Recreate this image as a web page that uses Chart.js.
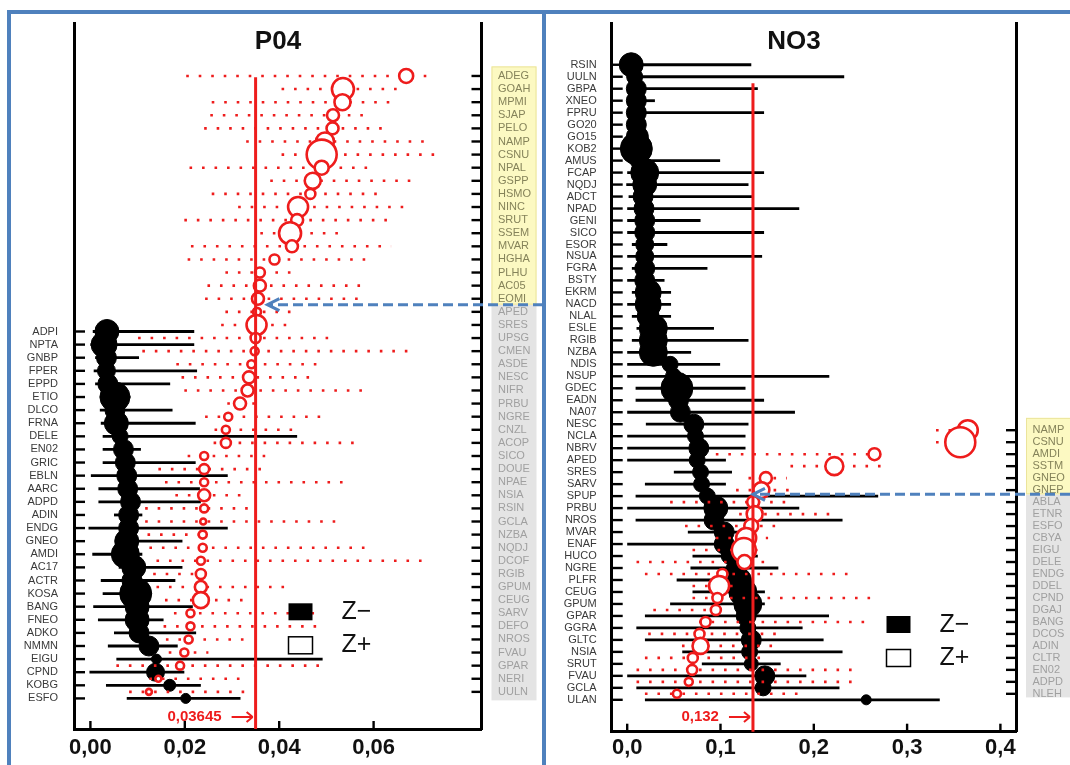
<!DOCTYPE html>
<html>
<head>
<meta charset="utf-8">
<script src="https://cdn.jsdelivr.net/npm/chart.js@4.4.1/dist/chart.umd.min.js"></script>
<style>
  html, body { margin: 0; padding: 0; background: #fff; }
  body { width: 1070px; height: 765px; position: relative; overflow: hidden; }
  .frame { position: absolute; background: #4f81bd; }
  canvas { position: absolute; top: 0; }
</style>
</head>
<body>
<div class="frame" style="left:7px;top:10px;width:1063px;height:4px"></div>
<div class="frame" style="left:7px;top:10px;width:4px;height:755px"></div>
<div class="frame" style="left:542px;top:10px;width:4px;height:755px"></div>
<canvas id="chartP" width="543" height="765" style="left:0"></canvas>
<canvas id="chartN" width="527" height="765" style="left:543px"></canvas>
<script>
// ---- P04 : Z+ (red, right labels) ----
const pRedNames = ['ADEG','GOAH','MPMI','SJAP','PELO','NAMP','CSNU','NPAL','GSPP','HSMO','NINC','SRUT','SSEM','MVAR','HGHA','PLHU','AC05','EOMI',
  'APED','SRES','UPSG','CMEN','ASDE','NESC','NIFR','PRBU','NGRE','CNZL','ACOP','SICO','DOUE','NPAE','NSIA','RSIN','GCLA','NZBA','NQDJ','DCOF',
  'RGIB','GPUM','CEUG','SARV','DEFO','NROS','FVAU','GPAR','NERI','UULN'];
const pRedMean = [0.0669,0.0535,0.0534,0.0514,0.0513,0.0497,0.0490,0.0490,0.0471,0.0466,
  0.0440,0.0438,0.0423,0.0427,0.0390,0.0359,0.0359,0.0355,0.0353,0.0352,
  0.0350,0.0348,0.0341,0.0336,0.0333,0.0317,0.0292,0.0287,0.0287,0.0241,
  0.0241,0.0241,0.0241,0.0241,0.0239,0.0238,0.0238,0.0234,0.0234,0.0234,
  0.0234,0.0212,0.0212,0.0208,0.0199,0.0190,0.0144,0.0124];
const pRedLow = [0.0203,0.0405,0.0257,0.0254,0.0241,0.0330,0.0405,0.0210,0.0381,0.0257,
  0.0313,0.0199,0.0360,0.0213,0.0206,0.0286,0.0248,0.0243,0.0286,0.0277,
  0.0101,0.0110,0.0182,0.0193,0.0199,0.0290,0.0243,0.0263,0.0261,0.0206,
  0.0144,0.0158,0.0180,0.0116,0.0116,0.0121,0.0125,0.0140,0.0133,0.0140,
  0.0158,0.0177,0.0155,0.0160,0.0166,0.0055,0.0125,0.0082];
const pRedHigh = [0.0732,0.0659,0.0648,0.0589,0.0630,0.0719,0.0740,0.0604,0.0688,0.0622,
  0.0677,0.0644,0.0525,0.0637,0.0599,0.0425,0.0580,0.0575,0.0425,0.0418,
  0.0519,0.0692,0.0489,0.0475,0.0588,0.0356,0.0493,0.0431,0.0566,0.0374,
  0.0368,0.0549,0.0323,0.0345,0.0529,0.0245,0.0600,0.0721,0.0250,0.0419,
  0.0328,0.0486,0.0493,0.0334,0.0250,0.0500,0.0335,0.0334];
const pRedSize = [7,11,8,6,6,9,15,7,8,5, 10,6,11,6,5,5,6,6,4,10, 5,4,4,6,6,6,4,4,5,4, 5,4,6,4,3,4,4,4,5,6, 8,4,4,4,4,4,3,3];

// ---- P04 : Z- (black, left labels) ----
const pBlackNames = ['ADPI','NPTA','GNBP','FPER','EPPD','ETIO','DLCO','FRNA','DELE','EN02','GRIC','EBLN','AARC','ADPD','ADIN',
  'ENDG','GNEO','AMDI','AC17','ACTR','KOSA','BANG','FNEO','ADKO','NMMN','EIGU','CPND','KOBG','ESFO'];
const pBlackMean = [0.0035,0.0029,0.0034,0.0034,0.0037,0.0052,0.0052,0.0055,0.0063,0.0070,0.0074,0.0077,0.0079,0.0085,0.0081,
  0.0081,0.0077,0.0074,0.0092,0.0088,0.0096,0.0099,0.0099,0.0103,0.0124,0.0140,0.0138,0.0168,0.0202];
const pBlackLow = [0.0005,0.0000,0.0010,0.0007,0.0010,0.0020,0.0020,0.0022,0.0026,0.0026,0.0026,0.0001,0.0017,0.0017,0.0050,
  -0.0004,0.0052,0.0004,0.0060,0.0022,0.0026,0.0006,0.0016,0.0050,0.0037,0.0055,-0.0002,0.0033,0.0077];
const pBlackHigh = [0.0220,0.0220,0.0103,0.0226,0.0169,0.0085,0.0174,0.0223,0.0438,0.0107,0.0223,0.0291,0.0232,0.0234,0.0110,
  0.0291,0.0195,0.0110,0.0195,0.0180,0.0130,0.0217,0.0155,0.0224,0.0185,0.0492,0.0199,0.0234,0.0318];
const pBlackSize = [12,13,10,9,10,15,10,12,8,10,10,10,10,10,10,10,12,14,12,10,16,12,12,10,10,5,9,6,5];

const pXTicks = [0, 0.02, 0.04, 0.06];
const pMeanLine = 0.035;
const pMeanLabel = '0,03645';

// ---- NO3 : Z- (black, left labels) ----
const nBlackNames = ['RSIN','UULN','GBPA','XNEO','FPRU','GO20','GO15','KOB2','AMUS','FCAP','NQDJ','ADCT','NPAD','GENI','SICO','ESOR',
  'NSUA','FGRA','BSTY','EKRM','NACD','NLAL','ESLE','RGIB','NZBA','NDIS','NSUP','GDEC','EADN','NA07','NESC','NCLA','NBRV','APED',
  'SRES','SARV','SPUP','PRBU','NROS','MVAR','ENAF','HUCO','NGRE','PLFR','CEUG','GPUM','GPAR','GGRA','GLTC','NSIA','SRUT','FVAU','GCLA','ULAN'];
const nBlackMean = [0.0043,0.0080,0.0098,0.0098,0.0098,0.0098,0.0109,0.0098,0.0116,0.0188,
  0.0188,0.0170,0.0180,0.0188,0.0188,0.0188,0.0188,0.0188,0.0188,0.0225,
  0.0225,0.0225,0.0280,0.0280,0.0280,0.0460,0.0496,0.0533,0.0550,0.0570,
  0.0714,0.0732,0.0768,0.0750,0.0786,0.0797,0.0859,0.0950,0.0931,0.1040,
  0.1040,0.1094,0.1149,0.1203,0.1239,0.1293,0.1275,0.1293,0.1330,0.1312,
  0.1330,0.1475,0.1457,0.2562];
const nBlackLow = [0,0,0,0,0,0,0,0,0,0,
  -0.001,0.0015,0,0,0,0.005,0,0.005,0,0.005,
  0,0.005,0.010,0.005,0,0,0,0.009,0.009,0,
  0.020,0,0,0,0.050,0.019,0.009,0,0.009,0.065,
  0,0.070,0.0678,0.053,0.070,0.046,0.019,0.0098,0.019,0.059,
  0.080,0,0.0098,0.019];
const nBlackHigh = [0.133,0.2326,0.140,0.0297,0.1467,0.015,0.015,0.015,0.0996,0.1467,
  0.130,0.1337,0.1844,0.0786,0.1467,0.043,0.1446,0.086,0.040,0.047,
  0.047,0.047,0.093,0.130,0.0685,0.0996,0.2166,0.1268,0.1467,0.1798,
  0.130,0.1268,0.1268,0.1058,0.1123,0.1058,0.269,0.1844,0.2308,0.120,
  0.120,0.140,0.162,0.130,0.1476,0.1475,0.2163,0.188,0.2105,0.2308,
  0.1645,0.192,0.2275,0.335];
const nBlackSize = [12,8,10,10,10,10,11,16,8,14, 12,10,10,10,10,9,9,10,10,13, 13,11,14,14,14,8,8,16,10,10,
  10,8,10,8,8,8,8,12,10,10, 10,8,8,12,14,14,10,8,10,8, 7,10,8,5];

// ---- NO3 : Z+ (red, right labels) ----
const nRedNames = ['NAMP','CSNU','AMDI','SSTM','GNEO','GNEP','ABLA','ETNR','ESFO','CBYA','EIGU','DELE','ENDG','DDEL','CPND','DGAJ',
  'BANG','DCOS','ADIN','CLTR','EN02','ADPD','NLEH'];
const nRedMean = [0.365,0.357,0.265,0.222,0.1486,0.1438,0.135,0.1366,0.133,0.1275,0.125,0.1257,0.102,0.0985,0.0967,0.095,
  0.084,0.0775,0.0786,0.0703,0.0696,0.066,0.0533];
const nRedLow = [0.331,0.331,0.095,0.175,0.130,0.1167,0.046,0.120,0.062,0.095,0.070,0.010,0.019,0.070,0.070,0.028,
  0.077,0.0225,0.0587,0.019,0.010,0.010,0.019];
const nRedHigh = [0.375,0.365,0.265,0.2725,0.171,0.1746,0.173,0.218,0.160,0.151,0.140,0.149,0.2435,0.120,0.265,0.100,
  0.262,0.160,0.156,0.144,0.247,0.247,0.187];
const nRedSize = [10,15,6,9,6,8,6,8,7,10,12,7,5,10,5,5,5,5,8,5,5,4,4];

const nXTicks = [0, 0.1, 0.2, 0.3, 0.4];
const nMeanLine = 0.1348;
const nMeanLabel = '0,132';

const FONT = '"Liberation Sans", Arial, sans-serif';
const RED = '#ee1c1c';
const BLUE = '#4f81bd';

function line(ctx, x1, y1, x2, y2) {
  ctx.beginPath(); ctx.moveTo(x1, y1); ctx.lineTo(x2, y2); ctx.stroke();
}

function makePanel(canvasId, p) {
  const redRows = p.redNames.map((_, i) => p.redStart + i);
  const blackRows = p.blackNames.map((_, i) => p.blackStart + i);
  const bars = [
    { low: p.blackLow, high: p.blackHigh, rows: blackRows, dotted: false },
    { low: p.redLow, high: p.redHigh, rows: redRows, dotted: true }
  ];

  const overlay = {
    id: 'overlay',
    beforeDraw(chart) {
      // yellow / grey label boxes behind the right-hand names
      const ctx = chart.ctx, ys = chart.scales.y, ca = chart.chartArea;
      const x0 = ca.right + 10, w = 45;
      const yTop = ys.getPixelForValue(p.boxTop), ySplit = ys.getPixelForValue(p.boxSplit), yBot = ys.getPixelForValue(p.boxBottom);
      ctx.save();
      ctx.fillStyle = '#e4e4e4';
      ctx.fillRect(x0, ySplit, w, yBot - ySplit);
      ctx.fillStyle = '#fcf9c2';
      ctx.fillRect(x0, yTop, w, ySplit - yTop);
      ctx.strokeStyle = '#ebe49c'; ctx.lineWidth = 1;
      ctx.strokeRect(x0 + 0.5, yTop + 0.5, w - 1, ySplit - yTop - 1);
      ctx.restore();
    },
    beforeDatasetDraw(chart, args) {
      // error bars drawn just under their own circles
      const b = bars[args.index];
      const ctx = chart.ctx, xs = chart.scales.x, ys = chart.scales.y;
      ctx.save();
      if (b.dotted) {
        ctx.strokeStyle = RED; ctx.lineWidth = 2.6; ctx.setLineDash([2.6, 9.9]);
      } else {
        ctx.strokeStyle = '#000'; ctx.lineWidth = 2.8;
      }
      b.low.forEach((lo, i) => {
        const y = ys.getPixelForValue(b.rows[i]);
        line(ctx, xs.getPixelForValue(lo), y, xs.getPixelForValue(b.high[i]), y);
      });
      ctx.restore();
    },
    afterDatasetsDraw(chart) {
      const ctx = chart.ctx, xs = chart.scales.x, ys = chart.scales.y, ca = chart.chartArea;
      const mx = xs.getPixelForValue(p.meanLine);
      ctx.save();
      ctx.strokeStyle = RED; ctx.lineWidth = 3;
      line(ctx, mx, ys.getPixelForValue(p.meanTop), mx, ca.bottom);
      ctx.restore();
    },
    afterDraw(chart) {
      const ctx = chart.ctx, xs = chart.scales.x, ys = chart.scales.y, y2 = chart.scales.y2, ca = chart.chartArea;
      ctx.save();
      // inward tick marks
      ctx.strokeStyle = '#000'; ctx.lineWidth = 2.4;
      ys.ticks.forEach(t => { const y = ys.getPixelForValue(t.value); line(ctx, ca.left, y, ca.left + 11, y); });
      y2.ticks.forEach(t => { const y = y2.getPixelForValue(t.value); line(ctx, ca.right - 10, y, ca.right, y); });
      xs.ticks.forEach(t => { const x = xs.getPixelForValue(t.value); line(ctx, x, ca.bottom, x, ca.bottom - 8); });

      // title
      ctx.fillStyle = '#111'; ctx.font = 'bold 26px ' + FONT;
      ctx.textAlign = 'center'; ctx.textBaseline = 'middle';
      ctx.fillText(p.title, p.titleX, 42);

      // mean label with arrow
      const mx = xs.getPixelForValue(p.meanLine);
      ctx.fillStyle = RED; ctx.strokeStyle = RED; ctx.lineWidth = 2;
      ctx.font = 'bold 15px ' + FONT; ctx.textAlign = 'right';
      ctx.fillText(p.meanLabel, mx - 34, 717);
      line(ctx, mx - 24, 717, mx - 3, 717);
      line(ctx, mx - 9, 712, mx - 3, 717);
      line(ctx, mx - 9, 722, mx - 3, 717);

      // legend
      ctx.fillStyle = '#000';
      ctx.fillRect(p.legendX, p.legendY, 24, 17);
      ctx.fillStyle = '#fff'; ctx.fillRect(p.legendX, p.legendY + 33.5, 24, 17);
      ctx.strokeStyle = '#000'; ctx.lineWidth = 1.5;
      ctx.strokeRect(p.legendX, p.legendY + 33.5, 24, 17);
      ctx.fillStyle = '#111'; ctx.font = '25px ' + FONT; ctx.textAlign = 'left';
      ctx.fillText('Z\u2212', p.legendX + 53, p.legendY + 9);
      ctx.fillText('Z+', p.legendX + 53, p.legendY + 42);

      // blue dashed pointer
      const tip = xs.getPixelForValue(p.arrowTip), ay = ys.getPixelForValue(p.boxSplit);
      ctx.strokeStyle = BLUE; ctx.lineWidth = 3; ctx.setLineDash([10, 5]);
      line(ctx, chart.width, ay, tip + 2, ay);
      ctx.setLineDash([]);
      ctx.beginPath(); ctx.moveTo(tip + 12, ay - 6); ctx.lineTo(tip, ay); ctx.lineTo(tip + 12, ay + 6); ctx.stroke();
      ctx.restore();
    }
  };

  const yCommon = {
    type: 'linear', min: p.yMin, max: p.yMax, reverse: true, bounds: 'data',
    grid: { display: false, drawTicks: false },
    border: { display: true, color: '#000', width: 3 }
  };

  return new Chart(document.getElementById(canvasId), {
    type: 'bubble',
    data: {
      datasets: [
        { label: 'Z\u2212', order: 2, backgroundColor: '#000', borderColor: '#000', borderWidth: 1,
          data: p.blackMean.map((v, i) => ({ x: v, y: blackRows[i], r: p.blackSize[i] })) },
        { label: 'Z+', order: 1, backgroundColor: '#fff', borderColor: RED, borderWidth: 2.6,
          data: p.redMean.map((v, i) => ({ x: v, y: redRows[i], r: p.redSize[i] })) }
      ]
    },
    options: {
      responsive: false, animation: false, events: [],
      layout: { padding: { top: 12, left: 0, right: 0, bottom: 0 } },
      plugins: { legend: { display: false }, tooltip: { enabled: false } },
      scales: {
        x: {
          type: 'linear', min: p.xMin, max: p.xMax, bounds: 'data',
          afterBuildTicks: a => { a.ticks = p.xTicks.map(v => ({ value: v })); },
          afterFit: a => { a.height = p.xHeight; },
          grid: { display: false, drawTicks: false },
          border: { display: true, color: '#000', width: 3 },
          ticks: { padding: p.xPad, color: '#111', autoSkip: false, maxRotation: 0,
            font: { family: FONT, size: 22, weight: 'bold' },
            callback: v => v.toFixed(p.decimals).replace('.', ',') }
        },
        y: Object.assign({}, yCommon, {
          position: 'left',
          afterBuildTicks: a => { a.ticks = blackRows.map(v => ({ value: v })); },
          afterFit: a => { a.width = p.yLeftWidth; },
          ticks: { padding: p.yLeftPad, autoSkip: false, color: '#3a3a3a', font: { family: FONT, size: 11 },
            callback: (v, i) => p.blackNames[i] }
        }),
        y2: Object.assign({}, yCommon, {
          position: 'right',
          afterBuildTicks: a => { a.ticks = redRows.map(v => ({ value: v })); },
          afterFit: a => { a.width = p.yRightWidth; },
          ticks: { padding: 16.5, autoSkip: false, font: { family: FONT, size: 11 },
            color: c => (c.index < p.yellowCount ? '#85835a' : '#a0a0a0'),
            callback: (v, i) => p.redNames[i] }
        })
      }
    },
    plugins: [overlay]
  });
}

makePanel('chartP', {
  title: 'P04', titleX: 278,
  redNames: pRedNames, redMean: pRedMean, redLow: pRedLow, redHigh: pRedHigh, redSize: pRedSize,
  blackNames: pBlackNames, blackMean: pBlackMean, blackLow: pBlackLow, blackHigh: pBlackHigh, blackSize: pBlackSize,
  redStart: 0, blackStart: 19.5, yellowCount: 18,
  xTicks: pXTicks, decimals: 2, xMin: -0.003475, xMax: 0.08286,
  yMin: -4.0345, yMax: 49.834,
  yLeftWidth: 74, yRightWidth: 61.5, xHeight: 36, xPad: 6, yLeftPad: 16,
  meanLine: pMeanLine, meanLabel: pMeanLabel, meanTop: 0.1, arrowTip: 0.0375,
  boxTop: -0.73, boxSplit: 17.45, boxBottom: 47.65,
  legendX: 288.5, legendY: 603.3
});

makePanel('chartN', {
  title: 'NO3', titleX: 251,
  redNames: nRedNames, redMean: nRedMean, redLow: nRedLow, redHigh: nRedHigh, redSize: nRedSize,
  blackNames: nBlackNames, blackMean: nBlackMean, blackLow: nBlackLow, blackHigh: nBlackHigh, blackSize: nBlackSize,
  redStart: 30.5, blackStart: 0, yellowCount: 6,
  xTicks: nXTicks, decimals: 1, xMin: -0.01661, xMax: 0.41672,
  yMin: -3.4758, yMax: 55.661,
  yLeftWidth: 68.7, yRightWidth: 54, xHeight: 33.3, xPad: 3.5, yLeftPad: 15,
  meanLine: nMeanLine, meanLabel: nMeanLabel, meanTop: 1.55, arrowTip: 0.1348,
  boxTop: 29.47, boxSplit: 35.85, boxBottom: 52.8,
  legendX: 343.5, legendY: 616
});
</script>
</body>
</html>
